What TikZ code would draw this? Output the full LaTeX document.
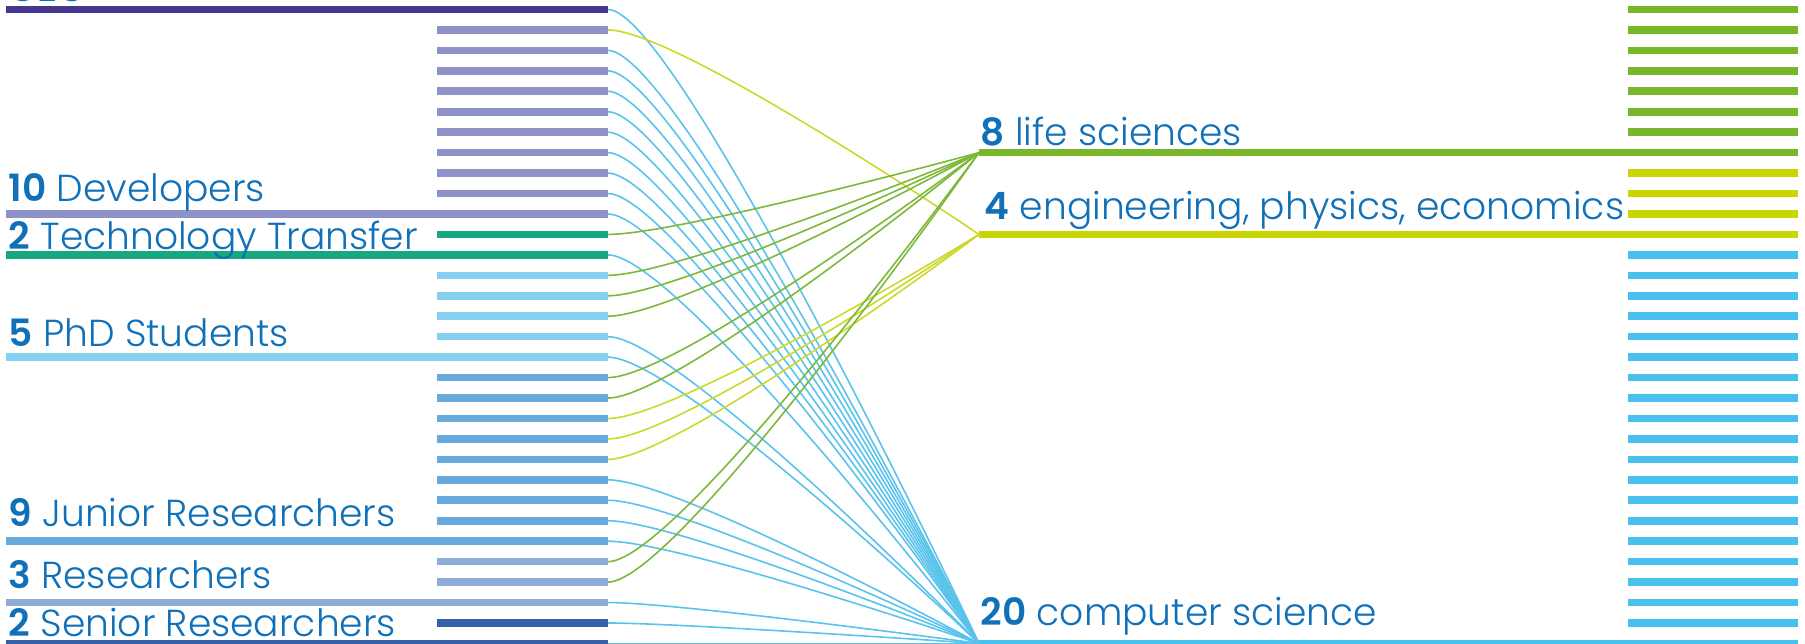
\documentclass[tikz,border=0pt]{standalone}
\usepackage{fontspec}
\setmainfont{Poppins}[UprightFont=* Light, BoldFont=* SemiBold]
\definecolor{txt}{HTML}{1070B8}
\definecolor{ceo}{HTML}{46388C}
\definecolor{dev}{HTML}{8F92C8}
\definecolor{tt}{HTML}{16A880}
\definecolor{phd}{HTML}{86D0F2}
\definecolor{jun}{HTML}{69AADC}
\definecolor{res}{HTML}{8EACDA}
\definecolor{sen}{HTML}{3460A8}
\definecolor{lsc}{HTML}{78B62A}
\definecolor{eng}{HTML}{CAD600}
\definecolor{csc}{HTML}{48C1EE}
\definecolor{linkls}{HTML}{7DB83A}
\definecolor{linkeng}{HTML}{CCD82A}
\definecolor{linkcs}{HTML}{5AC3EB}
\begin{document}
\begin{tikzpicture}[x=0.1mm,y=-0.1mm,
bar/.style={line width=0.76mm},
link/.style={line width=0.16mm},
lbl/.style={anchor=base west,inner sep=0pt,text=txt,font=\fontsize{10.7pt}{12pt}\selectfont}]
\useasboundingbox (0,0) rectangle (1805,644);

% staff, one bar per person
\foreach \i/\c/\s in {0/ceo/6,1/dev/437,2/dev/437,3/dev/437,4/dev/437,5/dev/437,6/dev/437,7/dev/437,8/dev/437,9/dev/437,10/dev/6,
  11/tt/437,12/tt/6,13/phd/437,14/phd/437,15/phd/437,16/phd/437,17/phd/6,
  18/jun/437,19/jun/437,20/jun/437,21/jun/437,22/jun/437,23/jun/437,24/jun/437,25/jun/437,26/jun/6,
  27/res/437,28/res/437,29/res/6,30/sen/437,31/sen/6}
  \draw[bar,\c] (\s,{9.5+20.45*\i}) -- (608,{9.5+20.45*\i}) coordinate (l\i);

% fields, one bar per person
\foreach \i/\c/\s in {0/lsc/1628,1/lsc/1628,2/lsc/1628,3/lsc/1628,4/lsc/1628,5/lsc/1628,6/lsc/1628,7/lsc/979,
  8/eng/1628,9/eng/1628,10/eng/1628,11/eng/979,
  12/csc/1628,13/csc/1628,14/csc/1628,15/csc/1628,16/csc/1628,17/csc/1628,18/csc/1628,19/csc/1628,20/csc/1628,
  21/csc/1628,22/csc/1628,23/csc/1628,24/csc/1628,25/csc/1628,26/csc/1628,27/csc/1628,28/csc/1628,29/csc/1628,30/csc/1628,31/csc/979}
  \draw[bar,\c] (\s,{9.5+20.45*\i}) coordinate (r\i) -- (1798,{9.5+20.45*\i});

\coordinate (life) at (r7);
\coordinate (engi) at (r11);
\coordinate (comp) at (r31);

% who works in which field
\foreach \i/\t/\c in {0/comp/linkcs,1/engi/linkeng,2/comp/linkcs,3/comp/linkcs,4/comp/linkcs,5/comp/linkcs,6/comp/linkcs,
  7/comp/linkcs,8/comp/linkcs,9/comp/linkcs,10/comp/linkcs,11/life/linkls,12/comp/linkcs,13/life/linkls,14/life/linkls,
  15/life/linkls,16/comp/linkcs,17/comp/linkcs,18/life/linkls,19/life/linkls,20/engi/linkeng,21/engi/linkeng,
  22/engi/linkeng,23/comp/linkcs,24/comp/linkcs,25/comp/linkcs,26/comp/linkcs,27/life/linkls,28/life/linkls,
  29/comp/linkcs,30/comp/linkcs,31/comp/linkcs}
  \draw[link,\c] (l\i) .. controls +(70,0) and (\t) .. (\t);

\node[lbl] (ceol) at (8,1.5) {\textbf{CEO}};
\node[lbl] (devl) at (8,201.7) {\textbf{10} Developers};
\node[lbl] (ttl) at (8,249.3) {\textbf{2} Technology Transfer};
\node[lbl] (phdl) at (8,346.7) {\textbf{5} PhD Students};
\node[lbl] (junl) at (8,526.7) {\textbf{9} Junior Researchers};
\node[lbl] (resl) at (8,589) {\textbf{3} Researchers};
\node[lbl] (senl) at (8,636.7) {\textbf{2} Senior Researchers};

\node[lbl] (lifel) at (980,146) {\textbf{8} life sciences};
\node[lbl] (engl) at (984,219.3) {\textbf{4} engineering, physics, economics};
\node[lbl] (compl) at (980,626) {\textbf{20} computer science};
\end{tikzpicture}
\end{document}
